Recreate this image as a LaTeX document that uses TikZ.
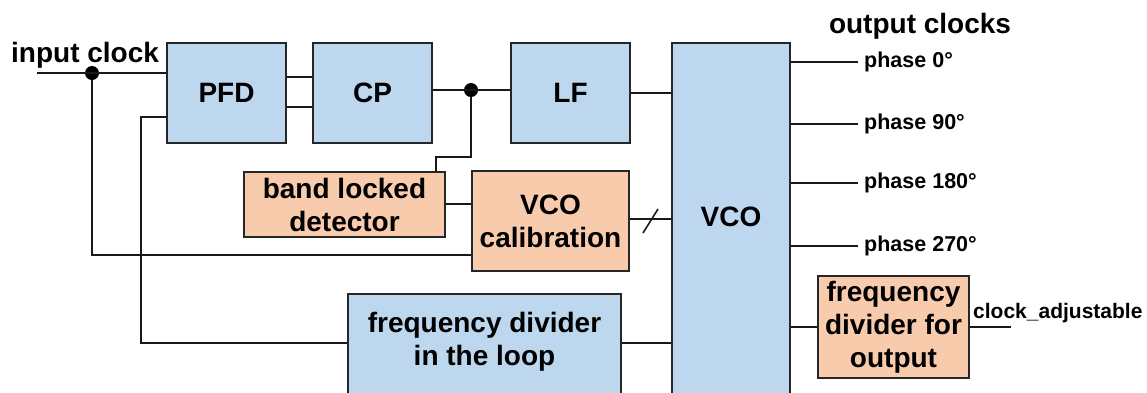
\documentclass[tikz,border=0pt]{standalone}
\usepackage{fontspec}
\setmainfont{Liberation Sans}
\begin{document}
\begin{tikzpicture}[x=1pt,y=-1pt,
  every node/.style={font=\bfseries\fontsize{28}{33}\selectfont},
  blk/.style={draw=black!85,line width=1.8pt,inner sep=0pt,align=center},
  blue/.style={blk,fill=blubox},
  orange/.style={blk,fill=orbox},
  wire/.style={line width=1.6pt,black!90},
  small/.style={font=\bfseries\fontsize{21.5}{24}\selectfont,inner sep=0pt},
  dot/.style={circle,fill=black,inner sep=0pt,minimum size=14pt}]
\definecolor{blubox}{HTML}{BDD7EE}
\definecolor{orbox}{HTML}{F8CBAD}
\useasboundingbox (0,0) rectangle (1147,392);
\clip (0,0) rectangle (1147,392);
% blocks
\node[blue,minimum width=119pt,minimum height=100pt] (pfd) at (226.5,93) {PFD};
\node[blue,minimum width=119pt,minimum height=100pt] (cp) at (372.5,93) {CP};
\node[blue,minimum width=119pt,minimum height=100pt] (lf) at (570.5,93) {LF};
\node[orange,minimum width=201pt,minimum height=65pt] (bld) at (344.5,204.5) {band locked\\detector};
\node[orange,minimum width=157pt,minimum height=100pt] (cal) at (550.5,221) {VCO\\calibration};
\node[blue,minimum width=118pt,minimum height=380pt,anchor=north] (vco) at (731,42) {};
\node (vcot) at (731,217) {VCO};
\node[blue,minimum width=273pt,minimum height=140pt,anchor=north] (fdl) at (484.5,293) {};
\node[align=center] (fdlt) at (484.5,342) {frequency divider\\in the loop};
\node[orange,minimum width=151pt,minimum height=102pt] (fdo) at (893.5,327) {frequency\\divider for\\output};
% texts
\node[anchor=base west,inner sep=0pt] (inl) at (11,62) {input clock};
\node[anchor=base,inner sep=0pt] (outl) at (920,33) {output clocks};
% coordinates
\coordinate (in) at (37,73);
\node[dot] (d1) at (92,73) {};
\node[dot] (d2) at (471,90) {};
\coordinate (j1) at (92,255);
\coordinate (j2) at (141,117);
\coordinate (j3) at (141,343);
\coordinate (k1) at (471,157);
\coordinate (k2) at (436,157);
\coordinate (out) at (1011,327);
% wires
\draw[wire] (in) -- (in -| pfd.west);
\draw[wire] (d1) -- (j1) -- (j1 -| cal.west);
\draw[wire] (pfd.west |- j2) -- (j2) -- (j3) -- (j3 -| fdl.west);
\draw[wire] (pfd.east |- 0,77) -- (cp.west |- 0,77);
\draw[wire] (pfd.east |- 0,107) -- (cp.west |- 0,107);
\draw[wire] (cp.east |- d2) -- (lf.west |- d2);
\draw[wire] (d2) -- (k1) -- (k2) -- (k2 |- bld.north);
\draw[wire] (bld.east |- 0,204) -- (cal.west |- 0,204);
\draw[wire] (cal.east |- 0,219) -- (vco.west |- 0,219);
\draw[wire] (643,233) -- (658,209);
\draw[wire] (lf.east |- 0,93) -- (vco.west |- 0,93);
\draw[wire] (fdl.east |- j3) -- (vco.west |- j3);
\foreach \y/\t/\n in {62/0/p0,124/90/p90,183/180/p180,246/270/p270}{
  \draw[wire] (vco.east |- 0,\y) -- (858,\y);
  \node[small,anchor=west] (\n) at (864,\y) {phase \t°};
}
\draw[wire] (vco.east |- out) -- (fdo.west |- out);
\draw[wire] (fdo.east |- out) -- (out);
\node[small,anchor=base west,font=\bfseries\fontsize{21}{24}\selectfont] (clk) at (973,318) {clock\_adjustable};
\end{tikzpicture}
\end{document}
